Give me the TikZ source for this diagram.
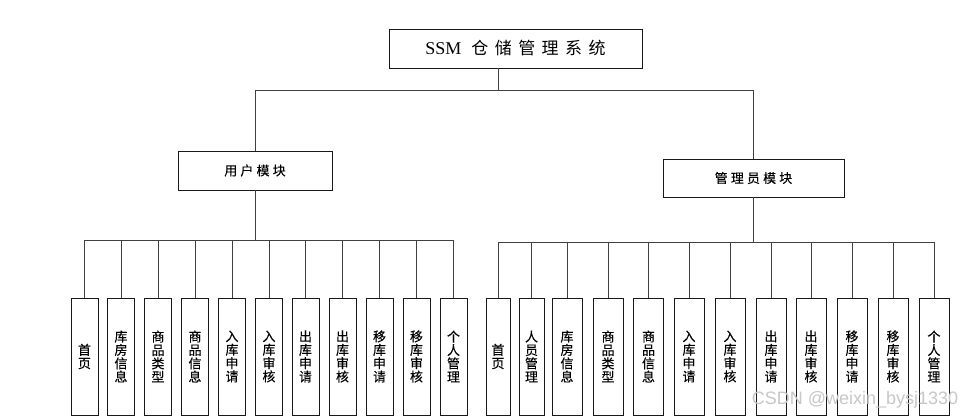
\documentclass[tikz,border=0pt]{standalone}
\usepackage{fontspec}
\newfontfamily\cjk[FakeBold=0.15]{Noto Sans CJK SC}
\newfontfamily\cjkwide[LetterSpace=38]{Noto Sans CJK SC}
\newfontfamily\cjkmid[LetterSpace=24,FakeBold=0.15]{Noto Sans CJK SC}
\newfontfamily\latinserif{Liberation Serif}
\setsansfont{Liberation Sans}
\begin{document}
\begin{tikzpicture}[x=1pt,y=-1pt,
  box/.style={draw=black!90, line width=0.9pt, fill=white, inner sep=0pt},
  conn/.style={draw=black!75, line width=1pt},
  leaf/.style={box, minimum height=117pt, font=\cjk\fontsize{13}{13.4}\selectfont, align=center},
  modtext/.style={font=\cjkmid\fontsize{13}{15}\selectfont}]
\useasboundingbox (0,0) rectangle (978,420);
% top level
\node[box, minimum width=253pt, minimum height=39pt] (root) at (515.5,48.5)
  {\fontsize{18}{20}\selectfont\latinserif SSM\hspace{10pt}\fontsize{17}{20}\selectfont\cjkwide 仓储管理系统};
\node[box, minimum width=154pt, minimum height=39pt, modtext] (user) at (255,170.5) {用户模块};
\node[box, minimum width=181pt, minimum height=38pt, modtext] (admin) at (753.5,178) {管理员模块};
\coordinate (j0) at (498,91);
\coordinate (jl) at (255,240);
\coordinate (jr) at (753.5,242);
\draw[conn] (root.south -| j0) -- (j0);
\draw[conn] (j0) -| (user.north);
\draw[conn] (j0) -| (admin.north);
\draw[conn] (user.south) -- (jl);
\draw[conn] (admin.south) -- (jr);
% user leaves
\foreach \x/\t [count=\i] in {84.5/{首\\页}, 121/{库\\房\\信\\息}, 158/{商\\品\\类\\型}, 195/{商\\品\\信\\息}, 232/{入\\库\\申\\请}, 269/{入\\库\\审\\核}, 305.5/{出\\库\\申\\请}, 342.5/{出\\库\\审\\核}, 379.5/{移\\库\\申\\请}, 416.5/{移\\库\\审\\核}, 453.5/{个\\人\\管\\理}}{
  \node[leaf, minimum width=27pt] (L\i) at (\x,356.5) {\t};
  \draw[conn] (jl) -| (L\i.north);
}
% admin leaves
\foreach \x/\w/\t [count=\i] in {498/24/{首\\页}, 531.5/25/{人\\员\\管\\理}, 567/30/{库\\房\\信\\息}, 608/30/{商\\品\\类\\型}, 648.5/30/{商\\品\\信\\息}, 689/30/{入\\库\\申\\请}, 730/30/{入\\库\\审\\核}, 771/30/{出\\库\\申\\请}, 811/30/{出\\库\\审\\核}, 852/30/{移\\库\\申\\请}, 893/30/{移\\库\\审\\核}, 934/30/{个\\人\\管\\理}}{
  \node[leaf, minimum width=\w pt] (R\i) at (\x,356.5) {\t};
  \draw[conn] (jr) -| (R\i.north);
}
\node[font=\sffamily\fontsize{18}{18}\selectfont, text=black!22] (wm) at (855,400) {CSDN @weixin\_bysj1330};
\end{tikzpicture}
\end{document}
